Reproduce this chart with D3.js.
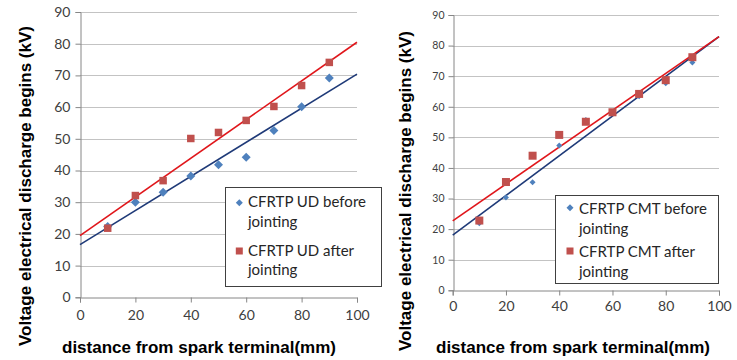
<!DOCTYPE html>
<html><head><meta charset="utf-8">
<script src="https://cdn.jsdelivr.net/npm/d3@7/dist/d3.min.js"></script>
<style>html,body{margin:0;padding:0;background:#fff;}svg{display:block;}</style>
</head><body>
<svg id="chart" width="737" height="360"></svg>
<script>
// ---- data ----
const distances = [10, 20, 30, 40, 50, 60, 70, 80, 90];
const udBefore  = [22.3, 30.0, 33.1, 38.3, 41.8, 44.2, 52.6, 60.1, 69.2];
const udAfter   = [21.8, 32.1, 36.8, 50.1, 52.0, 55.8, 60.2, 66.8, 74.1];
const cmtBefore = [21.9, 30.3, 35.3, 47.3, 55.7, 58.2, 63.4, 67.7, 74.5];
const cmtAfter  = [22.8, 35.4, 44.0, 50.8, 55.1, 58.2, 64.2, 68.7, 76.2];
const xTickValues = [0, 20, 40, 60, 80, 100];
const yTickValues = [0, 10, 20, 30, 40, 50, 60, 70, 80, 90];
const legendUD  = ["CFRTP UD before", "jointing", "CFRTP UD after", "jointing"];
const legendCMT = ["CFRTP CMT before", "jointing", "CFRTP CMT after", "jointing"];
const yTitle = "Voltage electrical discharge begins (kV)";
const xTitle = "distance from spark terminal(mm)";

const BLUE = "#4f81bd", RED = "#c0504d", NAVY = "#1f3a78", LRED = "#e0161b";
const svg = d3.select("#chart");

function fit(xs, ys) {
  const mx = d3.mean(xs), my = d3.mean(ys);
  const sxy = d3.sum(xs, (x, i) => (x - mx) * (ys[i] - my));
  const sxx = d3.sum(xs, x => (x - mx) * (x - mx));
  const b = sxy / sxx;
  return {a: my - b * mx, b};
}

const panels = [
  {before: udBefore, after: udAfter, legend: legendUD,
   px: [80, 357], py: [297.3, 12], yTickFont: 14, yLabelX: -9, xLabelDy: 20,
   diamond: 9, square: 7.5, legFont: 15,
   leg: {x: 225.5, y: 187.5, w: 156, h: 99, tx: 248, base: [207, 226.5, 255.5, 274.5], mx: 239.3, my: [202.7, 251]},
   yTitleX: 25.5, yTitleY: 186, xTitleX: 199, xTitleY: 352},
  {before: cmtBefore, after: cmtAfter, legend: legendCMT,
   px: [452.7, 719], py: [290.3, 15], yTickFont: 10.5, yLabelX: -8, xLabelDy: 18,
   diamond: 6, square: 8, legFont: 15,
   leg: {x: 555.5, y: 195.5, w: 163, h: 88, tx: 579, base: [213.5, 233.5, 256.5, 276.5], mx: 570, my: [207.7, 251]},
   yTitleX: 405, yTitleY: 191, xTitleX: 573, xTitleY: 352}
];

panels.forEach(p => {
  const x = d3.scaleLinear().domain([0, 100]).range(p.px);
  const y = d3.scaleLinear().domain([0, 90]).range(p.py);
  const g = svg.append("g");

  // gridlines
  g.append("g").selectAll("line").data(yTickValues.filter(v => v > 0)).join("line")
    .attr("x1", p.px[0]).attr("x2", p.px[1])
    .attr("y1", d => Math.round(y(d)) + 0.5).attr("y2", d => Math.round(y(d)) + 0.5)
    .attr("stroke", "#c3c3c3").attr("stroke-width", 1);

  // y axis
  const ya = g.append("g").attr("transform", `translate(${Math.round(p.px[0]) + 0.5},0)`)
    .call(d3.axisLeft(y).tickValues(yTickValues).tickSize(5).tickPadding(p.yLabelX * -1 - 5 + 1));
  ya.select(".domain").attr("stroke", "#868686");
  ya.selectAll(".tick line").attr("stroke", "#868686");
  ya.selectAll("text").attr("font-family", "Lato, 'Open Sans', sans-serif")
    .attr("font-size", p.yTickFont).attr("fill", "#404040");

  // x axis
  const xa = g.append("g").attr("transform", `translate(0,${Math.round(p.py[0]) + 0.5})`)
    .call(d3.axisBottom(x).tickValues(xTickValues).tickSize(5).tickPadding(p.xLabelDy - 12));
  xa.select(".domain").attr("stroke", "#868686");
  xa.selectAll(".tick line").attr("stroke", "#868686");
  xa.selectAll("text").attr("font-family", "Lato, 'Open Sans', sans-serif")
    .attr("font-size", 14).attr("fill", "#404040");

  // trend lines
  [[p.before, NAVY], [p.after, LRED]].forEach(([vals, col]) => {
    const f = fit(distances, vals);
    g.append("line")
      .attr("x1", x(0)).attr("y1", y(f.a))
      .attr("x2", x(100)).attr("y2", y(f.a + f.b * 100))
      .attr("stroke", col).attr("stroke-width", 1.6);
  });

  // markers: before = diamonds, after = squares
  const ds = p.diamond / 2;
  g.append("g").selectAll("path").data(distances).join("path")
    .attr("d", (d, i) => `M${x(d)},${y(p.before[i]) - ds}L${x(d) + ds},${y(p.before[i])}L${x(d)},${y(p.before[i]) + ds}L${x(d) - ds},${y(p.before[i])}Z`)
    .attr("fill", BLUE);
  const ss = p.square;
  g.append("g").selectAll("rect").data(distances).join("rect")
    .attr("x", d => x(d) - ss / 2).attr("y", (d, i) => y(p.after[i]) - ss / 2)
    .attr("width", ss).attr("height", ss).attr("fill", RED);

  // legend
  const L = p.leg;
  g.append("rect").attr("x", L.x).attr("y", L.y).attr("width", L.w).attr("height", L.h)
    .attr("fill", "#fff").attr("stroke", "#404040").attr("stroke-width", 1);
  g.append("g").selectAll("text").data(p.legend).join("text")
    .attr("x", L.tx).attr("y", (d, i) => L.base[i])
    .attr("font-family", "Lato, 'Open Sans', sans-serif").attr("font-size", p.legFont)
    .attr("fill", "#262626").text(d => d);
  const ld = 3.5;
  g.append("path")
    .attr("d", `M${L.mx},${L.my[0] - ld}L${L.mx + ld},${L.my[0]}L${L.mx},${L.my[0] + ld}L${L.mx - ld},${L.my[0]}Z`)
    .attr("fill", BLUE);
  g.append("rect").attr("x", L.mx - 3.5).attr("y", L.my[1] - 3.5).attr("width", 7).attr("height", 7).attr("fill", RED);

  // axis titles
  g.append("text")
    .attr("transform", `translate(${p.yTitleX},${p.yTitleY}) rotate(-90)`)
    .attr("text-anchor", "middle").attr("dominant-baseline", "central")
    .attr("font-family", "'Liberation Sans', Arial, sans-serif").attr("font-weight", "bold")
    .attr("font-size", 17).attr("fill", "#000").text(yTitle);
  g.append("text")
    .attr("x", p.xTitleX).attr("y", p.xTitleY + 1).attr("text-anchor", "middle")
    .attr("font-family", "'Liberation Sans', Arial, sans-serif").attr("font-weight", "bold")
    .attr("font-size", 17).attr("fill", "#000").text(xTitle);
});
</script>
</body></html>
